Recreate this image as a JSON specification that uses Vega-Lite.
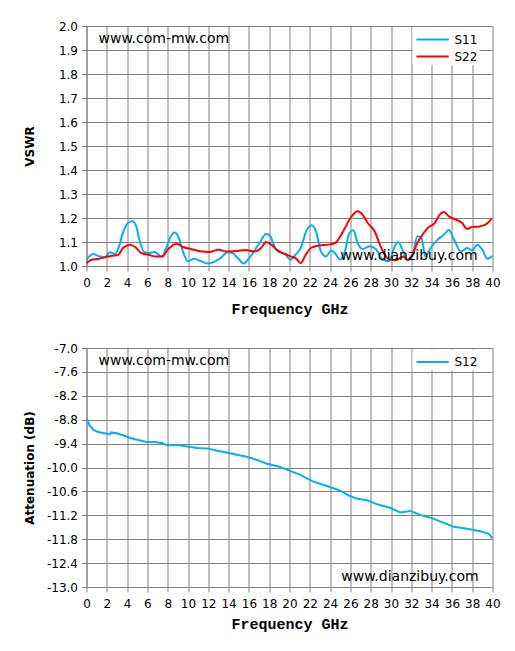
{
  "$schema": "https://vega.github.io/schema/vega-lite/v6.json",
  "background": "white",
  "padding": {"left": 23.5, "top": 20, "right": 10, "bottom": 10},
  "bounds": "flush",
  "spacing": 82,
  "datasets": {
    "vswr": [
      {"freq": 0, "param": "S11", "value": 1.026}, {"freq": 0.65, "param": "S11", "value": 1.05},
      {"freq": 1.3, "param": "S11", "value": 1.04}, {"freq": 1.8, "param": "S11", "value": 1.036},
      {"freq": 2.3, "param": "S11", "value": 1.057}, {"freq": 2.8, "param": "S11", "value": 1.05},
      {"freq": 3.1, "param": "S11", "value": 1.068}, {"freq": 3.6, "param": "S11", "value": 1.14},
      {"freq": 4.1, "param": "S11", "value": 1.18}, {"freq": 4.5, "param": "S11", "value": 1.186},
      {"freq": 4.9, "param": "S11", "value": 1.165}, {"freq": 5.2, "param": "S11", "value": 1.11},
      {"freq": 5.7, "param": "S11", "value": 1.057}, {"freq": 6.2, "param": "S11", "value": 1.054},
      {"freq": 6.7, "param": "S11", "value": 1.058}, {"freq": 7.4, "param": "S11", "value": 1.04},
      {"freq": 7.9, "param": "S11", "value": 1.08}, {"freq": 8.3, "param": "S11", "value": 1.124},
      {"freq": 8.7, "param": "S11", "value": 1.14}, {"freq": 9.1, "param": "S11", "value": 1.117},
      {"freq": 9.5, "param": "S11", "value": 1.06}, {"freq": 10, "param": "S11", "value": 1.02},
      {"freq": 10.6, "param": "S11", "value": 1.03}, {"freq": 11.3, "param": "S11", "value": 1.02},
      {"freq": 11.9, "param": "S11", "value": 1.01}, {"freq": 12.6, "param": "S11", "value": 1.017},
      {"freq": 13.2, "param": "S11", "value": 1.033}, {"freq": 13.9, "param": "S11", "value": 1.057},
      {"freq": 14.4, "param": "S11", "value": 1.054}, {"freq": 14.9, "param": "S11", "value": 1.033},
      {"freq": 15.5, "param": "S11", "value": 1.01}, {"freq": 15.9, "param": "S11", "value": 1.026},
      {"freq": 16.4, "param": "S11", "value": 1.054}, {"freq": 17.1, "param": "S11", "value": 1.1},
      {"freq": 17.7, "param": "S11", "value": 1.133}, {"freq": 18.1, "param": "S11", "value": 1.124},
      {"freq": 18.6, "param": "S11", "value": 1.075}, {"freq": 19.1, "param": "S11", "value": 1.06},
      {"freq": 19.6, "param": "S11", "value": 1.047}, {"freq": 20.1, "param": "S11", "value": 1.026},
      {"freq": 20.6, "param": "S11", "value": 1.047}, {"freq": 21.1, "param": "S11", "value": 1.075},
      {"freq": 21.7, "param": "S11", "value": 1.15}, {"freq": 22.2, "param": "S11", "value": 1.17},
      {"freq": 22.6, "param": "S11", "value": 1.145}, {"freq": 23.1, "param": "S11", "value": 1.06},
      {"freq": 23.6, "param": "S11", "value": 1.04}, {"freq": 24.1, "param": "S11", "value": 1.065},
      {"freq": 24.6, "param": "S11", "value": 1.047}, {"freq": 25, "param": "S11", "value": 1.026},
      {"freq": 25.5, "param": "S11", "value": 1.068}, {"freq": 25.9, "param": "S11", "value": 1.138},
      {"freq": 26.3, "param": "S11", "value": 1.149}, {"freq": 26.7, "param": "S11", "value": 1.096},
      {"freq": 27.2, "param": "S11", "value": 1.071}, {"freq": 27.9, "param": "S11", "value": 1.082},
      {"freq": 28.5, "param": "S11", "value": 1.071}, {"freq": 29.2, "param": "S11", "value": 1.026},
      {"freq": 29.8, "param": "S11", "value": 1.02}, {"freq": 30.3, "param": "S11", "value": 1.075},
      {"freq": 30.7, "param": "S11", "value": 1.1}, {"freq": 31.2, "param": "S11", "value": 1.06},
      {"freq": 31.6, "param": "S11", "value": 1.024}, {"freq": 32.1, "param": "S11", "value": 1.04},
      {"freq": 32.6, "param": "S11", "value": 1.124}, {"freq": 33, "param": "S11", "value": 1.117},
      {"freq": 33.4, "param": "S11", "value": 1.04}, {"freq": 33.9, "param": "S11", "value": 1.075},
      {"freq": 34.6, "param": "S11", "value": 1.11}, {"freq": 35.2, "param": "S11", "value": 1.13},
      {"freq": 35.7, "param": "S11", "value": 1.15}, {"freq": 36.2, "param": "S11", "value": 1.11},
      {"freq": 36.9, "param": "S11", "value": 1.06}, {"freq": 37.5, "param": "S11", "value": 1.075},
      {"freq": 38, "param": "S11", "value": 1.065}, {"freq": 38.5, "param": "S11", "value": 1.089},
      {"freq": 39, "param": "S11", "value": 1.068}, {"freq": 39.5, "param": "S11", "value": 1.03},
      {"freq": 40, "param": "S11", "value": 1.043},
      {"freq": 0, "param": "S22", "value": 1.012}, {"freq": 0.5, "param": "S22", "value": 1.026},
      {"freq": 1.2, "param": "S22", "value": 1.03}, {"freq": 1.8, "param": "S22", "value": 1.036},
      {"freq": 2.5, "param": "S22", "value": 1.043}, {"freq": 3.1, "param": "S22", "value": 1.046},
      {"freq": 3.6, "param": "S22", "value": 1.075}, {"freq": 4.3, "param": "S22", "value": 1.089},
      {"freq": 4.8, "param": "S22", "value": 1.079}, {"freq": 5.4, "param": "S22", "value": 1.054},
      {"freq": 6.1, "param": "S22", "value": 1.047}, {"freq": 6.7, "param": "S22", "value": 1.04},
      {"freq": 7.5, "param": "S22", "value": 1.04}, {"freq": 8, "param": "S22", "value": 1.068},
      {"freq": 8.9, "param": "S22", "value": 1.093}, {"freq": 9.5, "param": "S22", "value": 1.079},
      {"freq": 10.2, "param": "S22", "value": 1.072}, {"freq": 11.2, "param": "S22", "value": 1.061},
      {"freq": 12.1, "param": "S22", "value": 1.058}, {"freq": 13, "param": "S22", "value": 1.068},
      {"freq": 13.8, "param": "S22", "value": 1.06}, {"freq": 14.8, "param": "S22", "value": 1.062},
      {"freq": 15.7, "param": "S22", "value": 1.067}, {"freq": 16.5, "param": "S22", "value": 1.06},
      {"freq": 17.2, "param": "S22", "value": 1.075}, {"freq": 17.7, "param": "S22", "value": 1.1},
      {"freq": 18.2, "param": "S22", "value": 1.089}, {"freq": 18.9, "param": "S22", "value": 1.061},
      {"freq": 19.6, "param": "S22", "value": 1.05}, {"freq": 20.1, "param": "S22", "value": 1.04},
      {"freq": 20.6, "param": "S22", "value": 1.033}, {"freq": 21.1, "param": "S22", "value": 1.012},
      {"freq": 21.6, "param": "S22", "value": 1.047}, {"freq": 22.1, "param": "S22", "value": 1.075},
      {"freq": 22.9, "param": "S22", "value": 1.085}, {"freq": 23.9, "param": "S22", "value": 1.089},
      {"freq": 24.5, "param": "S22", "value": 1.096}, {"freq": 25.2, "param": "S22", "value": 1.138},
      {"freq": 26, "param": "S22", "value": 1.2}, {"freq": 26.7, "param": "S22", "value": 1.228},
      {"freq": 27.2, "param": "S22", "value": 1.214}, {"freq": 27.7, "param": "S22", "value": 1.179},
      {"freq": 28.4, "param": "S22", "value": 1.144}, {"freq": 28.9, "param": "S22", "value": 1.089},
      {"freq": 29.4, "param": "S22", "value": 1.047}, {"freq": 29.9, "param": "S22", "value": 1.026},
      {"freq": 30.5, "param": "S22", "value": 1.024}, {"freq": 31.2, "param": "S22", "value": 1.04},
      {"freq": 31.6, "param": "S22", "value": 1.026}, {"freq": 32.1, "param": "S22", "value": 1.047},
      {"freq": 32.6, "param": "S22", "value": 1.096}, {"freq": 33.1, "param": "S22", "value": 1.13},
      {"freq": 33.6, "param": "S22", "value": 1.158}, {"freq": 34.3, "param": "S22", "value": 1.179},
      {"freq": 34.8, "param": "S22", "value": 1.214}, {"freq": 35.2, "param": "S22", "value": 1.225},
      {"freq": 35.7, "param": "S22", "value": 1.207}, {"freq": 36.4, "param": "S22", "value": 1.193},
      {"freq": 37, "param": "S22", "value": 1.179}, {"freq": 37.5, "param": "S22", "value": 1.154},
      {"freq": 38, "param": "S22", "value": 1.163}, {"freq": 38.7, "param": "S22", "value": 1.165},
      {"freq": 39.3, "param": "S22", "value": 1.172}, {"freq": 39.9, "param": "S22", "value": 1.196}
    ],
    "atten": [
      {"freq": 0, "param": "S12", "value": -8.775}, {"freq": 0.3, "param": "S12", "value": -8.94},
      {"freq": 0.65, "param": "S12", "value": -9.05}, {"freq": 1.15, "param": "S12", "value": -9.11},
      {"freq": 1.8, "param": "S12", "value": -9.14}, {"freq": 2.3, "param": "S12", "value": -9.17},
      {"freq": 2.45, "param": "S12", "value": -9.12}, {"freq": 2.95, "param": "S12", "value": -9.14},
      {"freq": 3.6, "param": "S12", "value": -9.19}, {"freq": 4.3, "param": "S12", "value": -9.26},
      {"freq": 5.1, "param": "S12", "value": -9.31}, {"freq": 5.9, "param": "S12", "value": -9.36},
      {"freq": 6.7, "param": "S12", "value": -9.36}, {"freq": 7.5, "param": "S12", "value": -9.39},
      {"freq": 8, "param": "S12", "value": -9.45}, {"freq": 8.9, "param": "S12", "value": -9.43},
      {"freq": 9.9, "param": "S12", "value": -9.47}, {"freq": 10.9, "param": "S12", "value": -9.51},
      {"freq": 11.9, "param": "S12", "value": -9.52}, {"freq": 12.9, "param": "S12", "value": -9.58},
      {"freq": 13.9, "param": "S12", "value": -9.63}, {"freq": 14.8, "param": "S12", "value": -9.68},
      {"freq": 15.8, "param": "S12", "value": -9.73}, {"freq": 16.8, "param": "S12", "value": -9.81},
      {"freq": 17.7, "param": "S12", "value": -9.9}, {"freq": 19, "param": "S12", "value": -9.98},
      {"freq": 20, "param": "S12", "value": -10.08}, {"freq": 21, "param": "S12", "value": -10.18},
      {"freq": 22.3, "param": "S12", "value": -10.35}, {"freq": 23.6, "param": "S12", "value": -10.46},
      {"freq": 24.9, "param": "S12", "value": -10.57}, {"freq": 25.9, "param": "S12", "value": -10.71},
      {"freq": 26.6, "param": "S12", "value": -10.78}, {"freq": 27.6, "param": "S12", "value": -10.82},
      {"freq": 28.6, "param": "S12", "value": -10.92}, {"freq": 29.9, "param": "S12", "value": -11.01},
      {"freq": 30.9, "param": "S12", "value": -11.13}, {"freq": 31.9, "param": "S12", "value": -11.09},
      {"freq": 32.9, "param": "S12", "value": -11.19}, {"freq": 33.9, "param": "S12", "value": -11.26},
      {"freq": 34.9, "param": "S12", "value": -11.36}, {"freq": 36.2, "param": "S12", "value": -11.49},
      {"freq": 37.5, "param": "S12", "value": -11.54}, {"freq": 38.8, "param": "S12", "value": -11.6},
      {"freq": 39.6, "param": "S12", "value": -11.66}, {"freq": 40, "param": "S12", "value": -11.77}
    ]
  },
  "config": {
    "view": {"stroke": null},
    "axis": {
      "gridColor": "#808080", "gridOpacity": 1, "gridWidth": 1,
      "domainColor": "#808080", "domainWidth": 1,
      "tickColor": "#808080", "tickSize": 5,
      "labelColor": "#000000", "labelFont": "DejaVu Sans", "labelFontSize": 12,
      "labelOverlap": false, "labelFlush": false,
      "titleColor": "#000000"
    },
    "legend": {
      "orient": "none", "legendX": 326, "legendY": 1,
      "fillColor": "white", "padding": 2, "title": null,
      "symbolType": "M-0.9,0H2.5", "symbolSize": 361, "symbolStrokeWidth": 2,
      "labelFont": "DejaVu Sans", "labelFontSize": 12, "labelColor": "#000000",
      "labelOffset": 19, "rowPadding": 0
    }
  },
  "resolve": {"scale": {"color": "independent"}},
  "vconcat": [
    {
      "width": 406,
      "height": 240,
      "layer": [
        {
          "data": {"name": "vswr"},
          "mark": {"type": "line", "strokeWidth": 2, "interpolate": "monotone"},
          "encoding": {
            "x": {
              "field": "freq", "type": "quantitative",
              "scale": {"domain": [0, 40], "nice": false},
              "axis": {
                "values": [0, 2, 4, 6, 8, 10, 12, 14, 16, 18, 20, 22, 24, 26, 28, 30, 32, 34, 36, 38, 40],
                "title": "Frequency GHz", "titleFont": "Liberation Mono", "titleFontWeight": "bold",
                "titleFontSize": 15, "titlePadding": 13, "labelPadding": 6
              }
            },
            "y": {
              "field": "value", "type": "quantitative",
              "scale": {"domain": [1, 2], "nice": false, "zero": false},
              "axis": {
                "values": [1, 1.1, 1.2, 1.3, 1.4, 1.5, 1.6, 1.7, 1.8, 1.9, 2],
                "format": ".1f", "title": "VSWR", "titleFont": "DejaVu Sans",
                "titleFontWeight": "bold", "titleFontSize": 12,
                "titleX": -57, "titleBaseline": "middle", "labelPadding": 4
              }
            },
            "color": {
              "field": "param", "type": "nominal",
              "scale": {"domain": ["S11", "S22"], "range": ["#00b0f0", "#ff0000"]}
            }
          }
        },
        {
          "data": {"values": [{"label": "www.com-mw.com", "freq": 1.18, "value": 1.946}, {"label": "www.dianzibuy.com", "freq": 25.0, "value": 1.042}]},
          "mark": {"type": "text", "align": "left", "baseline": "middle", "font": "DejaVu Sans", "fontSize": 14, "color": "#000000"},
          "encoding": {
            "x": {
              "field": "freq", "type": "quantitative",
              "axis": {
                "values": [0, 2, 4, 6, 8, 10, 12, 14, 16, 18, 20, 22, 24, 26, 28, 30, 32, 34, 36, 38, 40],
                "title": "Frequency GHz", "titleFont": "Liberation Mono", "titleFontWeight": "bold",
                "titleFontSize": 15, "titlePadding": 13, "labelPadding": 6
              }
            },
            "y": {
              "field": "value", "type": "quantitative",
              "axis": {
                "values": [1, 1.1, 1.2, 1.3, 1.4, 1.5, 1.6, 1.7, 1.8, 1.9, 2],
                "format": ".1f", "title": "VSWR", "titleFont": "DejaVu Sans",
                "titleFontWeight": "bold", "titleFontSize": 12,
                "titleX": -57, "titleBaseline": "middle", "labelPadding": 4
              }
            },
            "text": {"field": "label"}
          }
        }
      ]
    },
    {
      "width": 406,
      "height": 239,
      "layer": [
        {
          "data": {"name": "atten"},
          "mark": {"type": "line", "strokeWidth": 2},
          "encoding": {
            "x": {
              "field": "freq", "type": "quantitative",
              "scale": {"domain": [0, 40], "nice": false},
              "axis": {
                "values": [0, 2, 4, 6, 8, 10, 12, 14, 16, 18, 20, 22, 24, 26, 28, 30, 32, 34, 36, 38, 40],
                "title": "Frequency GHz", "titleFont": "Liberation Mono", "titleFontWeight": "bold",
                "titleFontSize": 15, "titlePadding": 7, "labelPadding": 6
              }
            },
            "y": {
              "field": "value", "type": "quantitative",
              "scale": {"domain": [-13, -7], "nice": false, "zero": false},
              "axis": {
                "values": [-7, -7.6, -8.2, -8.8, -9.4, -10, -10.6, -11.2, -11.8, -12.4, -13],
                "format": ".1f", "labelExpr": "replace(datum.label, '\u2212', '-')",
                "title": "Attenuation (dB)", "titleFont": "DejaVu Sans",
                "titleFontWeight": "bold", "titleFontSize": 12,
                "titleX": -57, "titleBaseline": "middle", "labelPadding": 4
              }
            },
            "color": {
              "field": "param", "type": "nominal",
              "scale": {"domain": ["S12"], "range": ["#00b0f0"]},
              "legend": {"legendY": 1.5}
            }
          }
        },
        {
          "data": {"values": [{"label": "www.com-mw.com", "freq": 1.18, "value": -7.33}, {"label": "www.dianzibuy.com", "freq": 25.1, "value": -12.75}]},
          "mark": {"type": "text", "align": "left", "baseline": "middle", "font": "DejaVu Sans", "fontSize": 14, "color": "#000000"},
          "encoding": {
            "x": {
              "field": "freq", "type": "quantitative",
              "axis": {
                "values": [0, 2, 4, 6, 8, 10, 12, 14, 16, 18, 20, 22, 24, 26, 28, 30, 32, 34, 36, 38, 40],
                "title": "Frequency GHz", "titleFont": "Liberation Mono", "titleFontWeight": "bold",
                "titleFontSize": 15, "titlePadding": 7, "labelPadding": 6
              }
            },
            "y": {
              "field": "value", "type": "quantitative",
              "axis": {
                "values": [-7, -7.6, -8.2, -8.8, -9.4, -10, -10.6, -11.2, -11.8, -12.4, -13],
                "format": ".1f", "labelExpr": "replace(datum.label, '\u2212', '-')",
                "title": "Attenuation (dB)", "titleFont": "DejaVu Sans",
                "titleFontWeight": "bold", "titleFontSize": 12,
                "titleX": -57, "titleBaseline": "middle", "labelPadding": 4
              }
            },
            "text": {"field": "label"}
          }
        }
      ]
    }
  ]
}
